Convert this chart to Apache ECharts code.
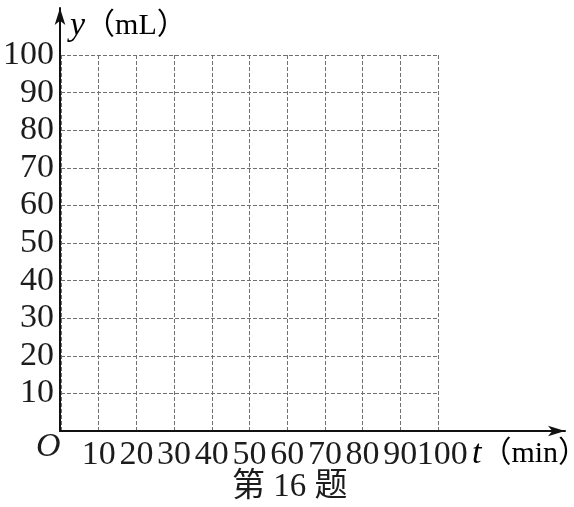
<!DOCTYPE html>
<html>
<head>
<meta charset="utf-8">
<script src="https://cdn.jsdelivr.net/npm/echarts@6/dist/echarts.min.js"></script>
<style>html,body{margin:0;padding:0;background:#fff}#c{width:574px;height:507px}</style>
</head>
<body>
<div id="c"></div>
<script>
var xTicks = [0, 10, 20, 30, 40, 50, 60, 70, 80, 90, 100];
var yTicks = [0, 10, 20, 30, 40, 50, 60, 70, 80, 90, 100];
var xName = 't';
var xUnit = '（min）';
var yName = 'y';
var yUnit = '（mL）';
var originLabel = 'O';
var caption = '第 16 题';

var serif = '"Liberation Serif","DejaVu Serif",serif';
var cjk = '"Liberation Serif","Noto Sans CJK SC",serif';
var ink = '#1c1c1c';
var xMin = xTicks[0], xMax = xTicks[xTicks.length - 1];
var chart = echarts.init(document.getElementById('c'));
var gridLine = {show: true, lineStyle: {color: '#707070', width: 1, type: [4, 2]}};
var labelBase = {margin: 7, color: ink, fontFamily: serif, fontSize: 34, hideOverlap: false};
chart.setOption({
  animation: false,
  grid: [
    {left: 60, top: 55, width: 378, height: 376},
    {left: 60, top: 8, right: 9, bottom: 76}
  ],
  xAxis: [
    {type: 'value', gridIndex: 0, min: xMin, max: xMax, interval: 10,
     axisLine: {show: false}, axisTick: {show: false}, splitLine: gridLine,
     axisLabel: Object.assign({}, labelBase, {showMinLabel: false, showMaxLabel: false,
       formatter: function (v) { return (v === xMin || v === xMax) ? '' : String(v); }})},
    {type: 'value', gridIndex: 1, min: 0, max: 1, axisLabel: {show: false}, axisTick: {show: false}, splitLine: {show: false},
     axisLine: {show: true, onZero: false, symbol: ['none', 'arrow'], symbolSize: [8, 17], lineStyle: {color: '#111', width: 2}}},
    {type: 'value', gridIndex: 0, position: 'bottom', offset: 0, min: xMin, max: xMax, interval: 10,
     axisLine: {show: false}, axisTick: {show: false}, splitLine: {show: false},
     axisLabel: Object.assign({}, labelBase, {showMinLabel: false, showMaxLabel: true,
       formatter: function (v) { return v === xMax ? ' ' + String(v) : ''; }})}
  ],
  yAxis: [
    {type: 'value', gridIndex: 0, min: yTicks[0], max: yTicks[yTicks.length - 1], interval: 10,
     axisLine: {show: false}, axisTick: {show: false}, splitLine: gridLine,
     axisLabel: Object.assign({}, labelBase, {showMinLabel: true, showMaxLabel: true,
       formatter: function (v) { return v === 0 ? '' : String(v); }})},
    {type: 'value', gridIndex: 1, min: 0, max: 1, axisLabel: {show: false}, axisTick: {show: false}, splitLine: {show: false},
     axisLine: {show: true, onZero: false, symbol: ['none', 'arrow'], symbolSize: [8, 17], lineStyle: {color: '#111', width: 2}}}
  ],
  series: [],
  graphic: [
    {type: 'text', left: 36, top: 430, style: {text: originLabel, font: 'italic 34px ' + serif, fill: ink}},
    {type: 'text', left: 70, top: 9, style: {
      text: '{i|' + yName + '}{n|' + yUnit + '}',
      rich: {i: {fontFamily: serif, fontStyle: 'italic', fontSize: 34, color: ink},
             n: {fontFamily: cjk, fontSize: 30, color: ink}}}},
    {type: 'text', left: 472, top: 437, style: {
      text: '{i|' + xName + '}{n|' + xUnit + '}',
      rich: {i: {fontFamily: serif, fontStyle: 'italic', fontSize: 34, color: ink},
             n: {fontFamily: cjk, fontSize: 30, color: ink}}}},
    {type: 'text', left: 232, top: 471, style: {text: caption, fontFamily: cjk, fontSize: 33, fill: ink}}
  ]
});
</script>
</body>
</html>
